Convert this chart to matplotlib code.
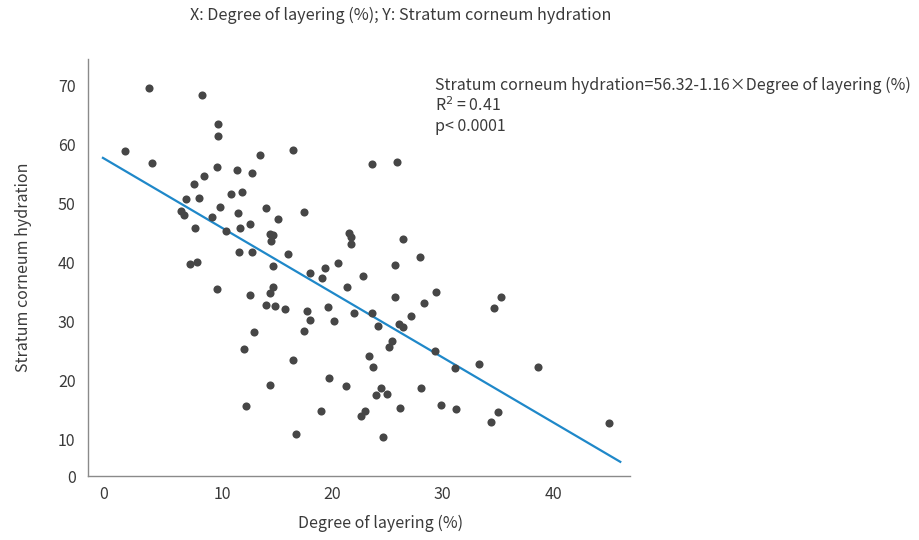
import numpy as np
import matplotlib
matplotlib.use('Agg')
import matplotlib.pyplot as plt

plt.rcParams['font.family'] = ['Noto Sans CJK SC', 'DejaVu Sans']

# degree of layering (%) and stratum corneum hydration
layering = [3.41, 8.16, 9.66, 9.66, 1.21, 3.65, 13.42, 16.44, 9.52, 11.33,
            12.75, 8.34, 7.43, 10.79, 11.84, 6.71, 7.91, 9.79, 13.99, 6.31,
            6.53, 11.45, 9.09, 12.51, 11.66, 15.10, 7.55, 10.36, 14.35, 14.60,
            14.47, 11.54, 12.69, 15.98, 7.10, 7.76, 14.60, 9.55, 12.57, 14.60,
            14.38, 13.96, 14.83, 15.71, 12.87, 12.02, 14.35, 12.20, 16.46, 27.95,
            17.98, 19.37, 20.52, 19.07, 25.71, 22.76, 21.33, 25.68, 29.43, 28.29,
            17.68, 19.64, 17.95, 20.18, 21.97, 23.63, 27.16, 17.43, 24.17, 26.05,
            26.38, 25.41, 25.11, 29.34, 23.33, 23.66, 31.13, 33.30, 19.70, 21.24,
            24.39, 23.93, 24.96, 28.01, 18.98, 22.99, 22.60, 26.11, 29.83, 31.24,
            16.68, 24.62, 23.57, 25.89, 17.43, 21.54, 21.72, 21.67, 26.41, 35.32,
            34.63, 38.68, 35.02, 34.39, 45.11]
hydration = [69.5, 68.3, 63.4, 61.4, 58.8, 56.9, 58.2, 59.1, 56.2, 55.7,
             55.1, 54.6, 53.3, 51.6, 51.9, 50.8, 50.9, 49.4, 49.3, 48.7,
             48.1, 48.4, 47.7, 46.6, 45.9, 47.3, 45.8, 45.4, 44.8, 44.6,
             43.6, 41.7, 41.7, 41.4, 39.7, 40.1, 39.4, 35.5, 34.5, 35.9,
             34.8, 32.8, 32.7, 32.2, 28.2, 25.4, 19.3, 15.7, 23.5, 41.0,
             38.3, 39.1, 40.0, 37.4, 39.6, 37.8, 35.9, 34.1, 35.1, 33.2,
             31.8, 32.4, 30.3, 30.1, 31.4, 31.5, 31.0, 28.4, 29.3, 29.6,
             29.1, 26.7, 25.7, 25.0, 24.2, 22.3, 22.1, 22.8, 20.4, 19.2,
             18.7, 17.6, 17.7, 18.8, 14.9, 14.9, 14.1, 15.4, 15.9, 15.2,
             11.0, 10.5, 56.6, 57.0, 48.5, 45.0, 44.4, 43.1, 44.0, 34.2,
             32.3, 22.4, 14.8, 13.0, 12.9]

# fitted line as drawn
fit_x = [-0.8, 46.1]
fit_y = [57.7, 6.3]

xticks = [-0.75, 10, 20, 30, 40]
xtick_labels = ['0', '10', '20', '30', '40']
yticks = [3.9, 10, 20, 30, 40, 50, 60, 70]
ytick_labels = ['0', '10', '20', '30', '40', '50', '60', '70']

text_col = '#3a3a3a'

fig = plt.figure(figsize=(9.2, 5.4), dpi=100)
ax = fig.add_axes([0.0957, 0.1185, 0.5893, 0.772])

ax.scatter(layering, hydration, s=34, color='#464646', zorder=3, linewidths=0)
ax.plot(fit_x, fit_y, color='#1f88c9', lw=1.6, zorder=2)

ax.set_xlim(-2.15, 47.0)
ax.set_ylim(3.9, 74.4)
ax.set_xticks(xticks)
ax.set_xticklabels(xtick_labels)
ax.set_yticks(yticks)
ax.set_yticklabels(ytick_labels)
ax.tick_params(length=0, labelsize=11.5, colors=text_col)
ax.tick_params(axis='x', pad=7)
ax.tick_params(axis='y', pad=9)

for side in ['top', 'right']:
    ax.spines[side].set_visible(False)
for side in ['left', 'bottom']:
    ax.spines[side].set_color('#8a8a8a')
    ax.spines[side].set_linewidth(1.0)

ax.set_xlabel('Degree of layering (%)', fontsize=11.5, color=text_col)
ax.xaxis.set_label_coords(0.54, -0.093)
ax.set_ylabel('Stratum corneum hydration', fontsize=11.5, color=text_col)
ax.yaxis.set_label_coords(-0.104, 0.5)

fig.text(0.436, 0.972, 'X: Degree of layering (%); Y: Stratum corneum hydration',
         ha='center', va='center', fontsize=11.7, color=text_col)

ax.text(435 / 920, 1 - 85 / 540,
        'Stratum corneum hydration=56.32-1.16\u00d7Degree of layering (%)',
        transform=fig.transFigure, ha='left', va='center', fontsize=11.5, color=text_col)
ax.text(435 / 920, 1 - 106 / 540, 'R$^2$ = 0.41',
        transform=fig.transFigure, ha='left', va='center', fontsize=11.5, color=text_col)
ax.text(435 / 920, 1 - 126 / 540, 'p< 0.0001',
        transform=fig.transFigure, ha='left', va='center', fontsize=11.5, color=text_col)

fig.savefig('out.png', dpi=100)
